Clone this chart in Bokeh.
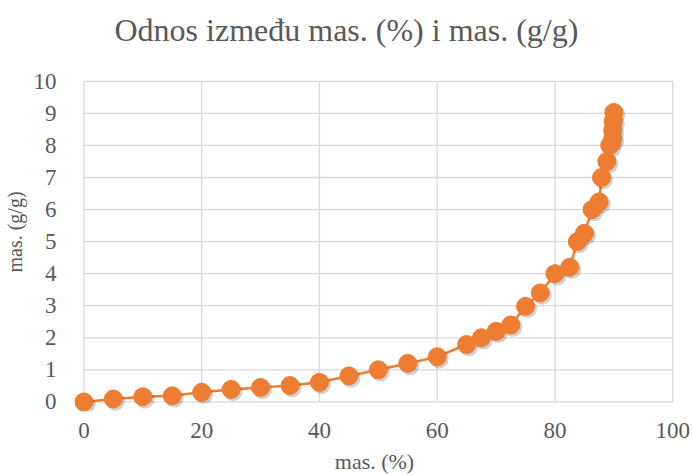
from bokeh.plotting import figure
from bokeh.models import FixedTicker, Range1d, Title, ColumnDataSource
from bokeh.embed import file_html
from bokeh.resources import INLINE
from bokeh.transform import dodge

# ---- data ----
mas_pct = [0, 5, 10, 15, 20, 25, 30, 35, 40, 45, 50, 55, 60, 65, 67.5, 70, 72.5,
           75, 77.5, 80, 82.5, 83.8, 85, 86.3, 87.5, 87.9, 88.8, 89.3, 89.8,
           89.8, 89.9, 90]
mas_gg = [0, 0.09, 0.16, 0.19, 0.3, 0.39, 0.45, 0.51, 0.61, 0.81, 1.0, 1.2, 1.41,
          1.79, 2.0, 2.2, 2.4, 2.98, 3.4, 4.0, 4.2, 5.0, 5.26, 6.0, 6.24, 7.0,
          7.5, 8.0, 8.2, 8.47, 8.75, 9.03]
x_ticks = [0, 20, 40, 60, 80, 100]
y_ticks = [0, 1, 2, 3, 4, 5, 6, 7, 8, 9, 10]
title_text = "Odnos između mas. (%) i mas. (g/g)"
x_label = "mas. (%)"
y_label = "mas. (g/g)"

FONT = "Liberation Serif"
TEXT = "#595959"
ORANGE = "#ED7D31"
GRID = "#D9D9D9"

FW, FH = 600, 359
p = figure(frame_width=FW, frame_height=FH, output_backend="svg",
           toolbar_location=None,
           x_range=Range1d(-1.6, 100.3), y_range=Range1d(-0.3, 10.9),
           min_border_left=67, min_border_right=18, min_border_top=52,
           min_border_bottom=63)
p.outline_line_color = None
p.xgrid.visible = False
p.ygrid.visible = False
p.background_fill_color = "white"
p.border_fill_color = "white"

# gridlines limited to the axis extent (0..100, 0..10)
nx = len(x_ticks)
ny = len(y_ticks)
p.segment(x0=x_ticks, y0=[y_ticks[0]] * nx, x1=x_ticks, y1=[y_ticks[-1]] * nx,
          line_color=GRID, line_width=1.3)
p.segment(x0=[x_ticks[0]] * ny, y0=y_ticks, x1=[x_ticks[-1]] * ny, y1=y_ticks,
          line_color=GRID, line_width=1.3)

src = ColumnDataSource(dict(x=mas_pct, y=mas_gg))
p.line("x", "y", source=src, line_color=ORANGE, line_width=2.5)
p.scatter(x=dodge("x", 0.35, range=p.x_range), y=dodge("y", -0.07, range=p.y_range),
          source=src, size=19, fill_color="black", line_color=None, fill_alpha=0.18)
p.scatter("x", "y", source=src, size=18, fill_color=ORANGE, line_color=ORANGE,
          line_width=1)

for ax, ticks, lab in ((p.xaxis, x_ticks, x_label), (p.yaxis, y_ticks, y_label)):
    ax.ticker = FixedTicker(ticks=ticks)
    ax.axis_line_color = None
    ax.major_tick_line_color = None
    ax.minor_tick_line_color = None
    ax.major_label_text_font = FONT
    ax.major_label_text_font_size = "23px"
    ax.major_label_text_color = TEXT
    ax.axis_label = lab
    ax.axis_label_text_font = FONT
    ax.axis_label_text_color = TEXT
    ax.axis_label_text_font_style = "normal"

p.xaxis.axis_label_text_font_size = "22px"
p.yaxis.axis_label_text_font_size = "20px"
p.xaxis.major_label_standoff = 5
p.xaxis.axis_label_standoff = 8
p.yaxis.major_label_standoff = 12
p.yaxis.axis_label_standoff = 5

p.title = Title(text=title_text, align="left", offset=40, standoff=10,
                text_font=FONT, text_font_size="32px", text_color=TEXT,
                text_font_style="normal")

open("out.html", "w").write(file_html(p, INLINE))
